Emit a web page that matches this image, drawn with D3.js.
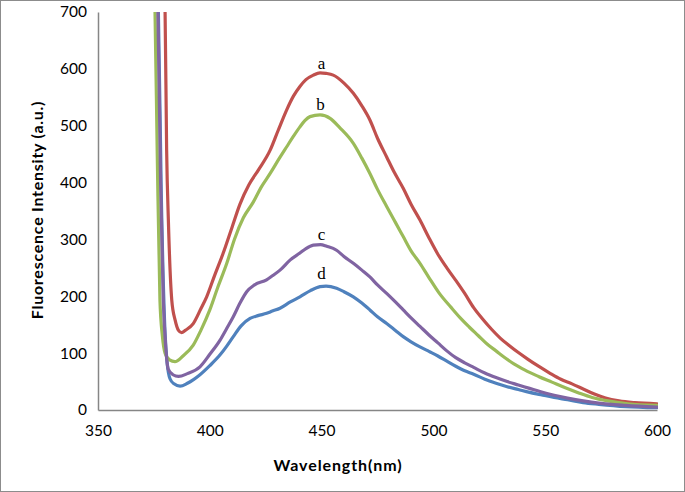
<!DOCTYPE html>
<html><head><meta charset="utf-8">
<script src="https://cdn.jsdelivr.net/npm/d3@7"></script>
<style>body{margin:0;background:#fff}svg{display:block}</style>
</head><body><svg id="c" width="685" height="492"></svg>
<script>
const xTicks = [350, 400, 450, 500, 550, 600];
const yTicks = [0, 100, 200, 300, 400, 500, 600, 700];
const seriesLabels = ["a", "b", "c", "d"];
const seriesColors = ["#C0504D", "#9BBB59", "#8064A2", "#4F81BD"];
const labelPos = [[450, 600], [449.5, 527], [450, 299], [450, 231]];

const curveA = [[379,800],[380,700],[380.7,457],[381.5,330],[383,193],[384.5,158],[386,140],[387.4,136],[389,140],[392.6,152],[396,178],[398.6,199],[402,235],[406,276],[410,322],[413.5,362],[417.5,396],[421.7,422],[427,457],[430.6,492],[434.4,528],[437.4,552],[440.3,569],[443,581],[446.3,589],[449.3,593],[452,592],[455.2,589],[460,575],[464.2,557],[468,535],[471.6,510],[475,478],[479.1,445],[482.5,418],[486.5,390],[490,362],[494,334],[498,303],[502,274],[506,250],[510,228],[514,205],[518,180],[522,160],[526,142],[530,126],[534,113],[538,101],[542,90],[547,77],[552,65],[557,54],[562,46],[567,37],[572,28],[577,21],[583,16],[590,13],[600,11]];
const curveB = [[374.5,800],[375.5,700],[376.5,450],[377.7,193],[378.8,130],[380,100],[382,88],[384.4,85],[388,95],[392.6,114],[396,140],[400,176],[403.5,215],[407.6,258],[411,300],[415,338],[419.5,366],[423,392],[427,416],[431,442],[434.4,463],[437.5,482],[440.3,498],[442.5,509],[444.8,516],[449.3,519],[453.8,513],[458,497],[464.2,469],[468,443],[471.6,416],[475,388],[479.1,358],[483,330],[486.5,305],[490,280],[494,258],[498,233],[502.5,206],[508,180],[512,162],[516,146],[520,131],[524,116],[528,104],[532,92],[536,81],[541,70],[547,59],[553,49],[559,39],[565,30],[571,22],[578,16],[587,11],[600,8]];
const curveC = [[375.5,800],[376.8,700],[378,400],[379.2,193],[380.3,110],[381.4,72],[383.5,62],[386,59],[390,64],[395.6,76],[400,98],[404.6,123],[407.5,143],[410.5,164],[413.5,188],[416.5,208],[420,220],[425.4,229],[428,236],[431.4,246],[436,264],[440.3,276],[443,284],[446.3,290],[449.5,291],[452.3,288],[456.7,281],[460,270],[464.2,258],[468,246],[471.6,234],[475,220],[479.1,205],[483,190],[486.5,176],[490,162],[494,147],[498,132],[502,118],[506,104],[510,92],[514,83],[518,75],[523,65],[528,57],[533,50],[538,44],[543,38],[548,32],[554,26],[560,21],[567,16],[574,12],[586,8],[600,5]];
const curveD = [[375.5,800],[377,700],[378.3,380],[380,135],[381,80],[382.2,55],[384,46],[386.7,42],[390,47],[395.6,62],[400,78],[404.6,97],[407.5,112],[410.5,129],[414,148],[418,161],[421.5,166],[425.4,170],[428,174],[431.4,179],[436,190],[440.3,199],[445,210],[449.3,217],[452,218],[456.7,214],[460,208],[464.2,199],[468,188],[471.6,176],[475,164],[479.1,152],[483,140],[486.5,129],[490,120],[494,111],[498,103],[502,95],[506,86],[510,77],[514,69],[518,63],[523,54],[528,47],[533,41],[538,36],[543,31],[548,27],[554,22],[560,18],[567,13],[574,10],[586,6],[600,4]];

const svg = d3.select("#c");
svg.append("rect").attr("x",0.5).attr("y",0.5).attr("width",684).attr("height",491)
  .attr("fill","#fff").attr("stroke","#8c8c8c").attr("stroke-width",1);

const x = d3.scaleLinear().domain([350,600]).range([98,657]);
const y = d3.scaleLinear().domain([0,700]).range([410,12]);

svg.append("defs").append("clipPath").attr("id","clip").append("rect")
  .attr("x",98).attr("y",12).attr("width",560).attr("height",398);

const font = "Lato, 'Open Sans', sans-serif";
const yAxis = svg.append("g").attr("transform","translate(98,0)")
  .call(d3.axisLeft(y).tickValues(yTicks).tickSize(0).tickPadding(11));
const xAxis = svg.append("g").attr("transform","translate(0,410)")
  .call(d3.axisBottom(x).tickValues(xTicks).tickSize(0).tickPadding(15));
[yAxis, xAxis].forEach(g => {
  g.select(".domain").attr("stroke","#868686").attr("stroke-width",1.5);
  g.selectAll("text").attr("font-family",font).attr("font-size",15.5).attr("fill","#000");
});

const line = d3.line().x(d=>x(d[0])).y(d=>y(d[1])).curve(d3.curveMonotoneX);
const plot = svg.append("g").attr("clip-path","url(#clip)");
const order = [[curveD,3],[curveA,0],[curveB,1],[curveC,2]];
order.forEach(([data,i]) => {
  plot.append("path").datum(data).attr("d",line).attr("fill","none")
    .attr("stroke",seriesColors[i]).attr("stroke-width",3.2)
    .attr("stroke-linejoin","round").attr("stroke-linecap","round");
});

seriesLabels.forEach((t,i) => {
  svg.append("text").attr("x",x(labelPos[i][0])).attr("y",y(labelPos[i][1]))
    .attr("text-anchor","middle").attr("font-family","'Liberation Serif', 'Times New Roman', serif")
    .attr("font-size",17).text(t);
});

svg.append("text").attr("x",338).attr("y",471).attr("text-anchor","middle")
  .attr("font-family",font).attr("font-weight","bold").attr("font-size",16).attr("letter-spacing",0.9)
  .text("Wavelength(nm)");
svg.append("text").attr("transform","translate(43,210) rotate(-90)").attr("text-anchor","middle")
  .attr("font-family",font).attr("font-weight","bold").attr("font-size",16).attr("letter-spacing",0.75)
  .text("Fluorescence Intensity (a.u.)");
</script></body></html>
